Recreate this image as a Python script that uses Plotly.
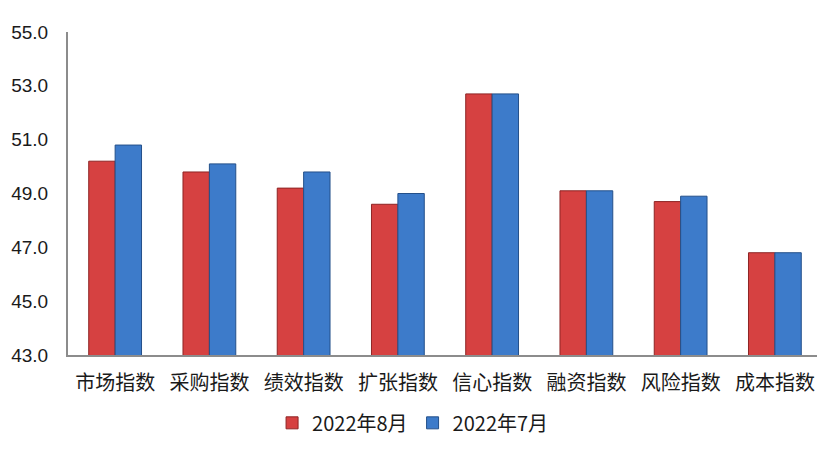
import plotly.graph_objects as go

categories = ["市场指数", "采购指数", "绩效指数", "扩张指数", "信心指数", "融资指数", "风险指数", "成本指数"]
aug_2022 = [50.2, 49.8, 49.2, 48.6, 52.7, 49.1, 48.7, 46.8]
jul_2022 = [50.8, 50.1, 49.8, 49.0, 52.7, 49.1, 48.9, 46.8]
series_names = ["2022年8月", "2022年7月"]
y_ticks = [43, 45, 47, 49, 51, 53, 55]

fig = go.Figure()
fig.add_trace(go.Bar(
    x=categories, y=aug_2022, name=series_names[0],
    marker=dict(color="#D64141", line=dict(color="#8E2424", width=1)),
))
fig.add_trace(go.Bar(
    x=categories, y=jul_2022, name=series_names[1],
    marker=dict(color="#3D7BCA", line=dict(color="#24508A", width=1)),
))

fig.update_layout(
    width=825, height=456,
    margin=dict(l=60, r=11, t=24, b=109, autoexpand=False),
    paper_bgcolor="white", plot_bgcolor="white",
    barmode="group", bargap=0.44, bargroupgap=0,
    font=dict(family="Noto Sans CJK SC", color="#1a1a1a"),
    legend=dict(orientation="h", x=0.457, xanchor="center", y=-0.21, yanchor="middle",
                font=dict(size=20, family="Noto Sans CJK SC"), itemwidth=30, traceorder="normal"),
    xaxis=dict(showline=True, linecolor="#8c8c8c", linewidth=2, ticks="",
               ticklabelstandoff=9,
               tickfont=dict(size=20, family="Noto Sans CJK SC"), showgrid=False, automargin=False),
    yaxis=dict(range=[43, 55], tickvals=y_ticks, tickformat=".1f", showgrid=False,
               showline=True, linecolor="#8c8c8c", linewidth=2, ticks="",
               ticklabelstandoff=14, automargin=False,
               tickfont=dict(size=19, family="Liberation Sans"), zeroline=False),
)

fig.write_html("out.html")
